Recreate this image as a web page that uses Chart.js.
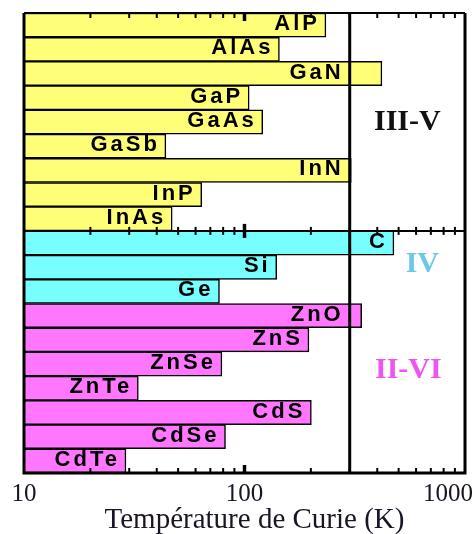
<!DOCTYPE html>
<html>
<head>
<meta charset="utf-8">
<script src="https://cdn.jsdelivr.net/npm/chart.js@4/dist/chart.umd.min.js"></script>
<style>
  html, body { margin: 0; padding: 0; background: #fff; }
  #wrap { width: 475px; height: 534px; }
</style>
</head>
<body>
<div id="wrap"><canvas id="curie"></canvas></div>
<script>
// Curie temperatures (K)
var materials = ['AlP','AlAs','GaN','GaP','GaAs','GaSb','InN','InP','InAs',
                 'C','Si','Ge',
                 'ZnO','ZnS','ZnSe','ZnTe','CdS','CdSe','CdTe'];
var curieT = [234, 144, 420, 105, 121, 44, 305, 64, 47,
              476, 140, 77,
              340, 196, 79, 33, 201, 82, 29];
var groupNames = ['III-V', 'IV', 'II-VI'];
var groupSizes = [9, 3, 7];
var tickValues = [10, 100, 1000];
var tickLabels = ['10', '100', '1000'];
var roomT = 300;

var barColors = ['#ffff77', '#77ffff', '#ff77ff'];
var groupTextColors = ['#111111', '#6cc8e8', '#ee55ee'];

var bgColors = [];
for (var g = 0; g < groupSizes.length; g++) {
  for (var k = 0; k < groupSizes[g]; k++) bgColors.push(barColors[g]);
}

function drawTicks(ctx, xs, y, dir, len) {
  // dir: 1 = downward, -1 = upward, 0 = both
  for (var v = 20; v < 1000; v += (v < 100 ? 10 : 100)) {
    var px = xs.getPixelForValue(v);
    var major = (v === 100);
    var l = major ? len + 3 : len;
    ctx.lineWidth = major ? 3.5 : 2;
    ctx.beginPath();
    if (dir === 0) { ctx.moveTo(px, y - l); ctx.lineTo(px, y + l); }
    else { ctx.moveTo(px, y); ctx.lineTo(px, y + dir * l); }
    ctx.stroke();
  }
}

var decor = {
  id: 'decor',
  afterDatasetsDraw: function(chart) {
    var ctx = chart.ctx, a = chart.chartArea;
    var xs = chart.scales.x, ys = chart.scales.y;
    ctx.save();
    ctx.strokeStyle = '#000';

    // bar labels
    var x300 = xs.getPixelForValue(roomT);
    var meta = chart.getDatasetMeta(0);
    ctx.font = 'bold 22px "Liberation Sans"';
    ctx.letterSpacing = '3px';
    ctx.fillStyle = '#000';
    ctx.textAlign = 'right';
    ctx.textBaseline = 'middle';
    meta.data.forEach(function(bar, i) {
      var right = bar.x - 6;
      // labels of bars that barely cross the 300 K line stay left of it
      if (bar.x > x300 && bar.x < x300 + 40) right = x300 - 6;
      ctx.fillText(materials[i], right, bar.y - 1);
    });
    ctx.letterSpacing = '0px';

    // frame
    ctx.lineWidth = 2;
    ctx.beginPath(); ctx.moveTo(a.left, a.top); ctx.lineTo(a.right, a.top); ctx.stroke();
    ctx.lineWidth = 3;
    ctx.beginPath();
    ctx.moveTo(a.left, a.top); ctx.lineTo(a.left, a.bottom);
    ctx.lineTo(a.right, a.bottom); ctx.lineTo(a.right, a.top);
    ctx.stroke();

    // room temperature line
    ctx.beginPath(); ctx.moveTo(x300, a.top); ctx.lineTo(x300, a.bottom); ctx.stroke();

    // separator between III-V and IV, drawn as an axis
    var ySep = (ys.getPixelForValue(groupSizes[0] - 1) + ys.getPixelForValue(groupSizes[0])) / 2;
    ctx.lineWidth = 2;
    ctx.beginPath(); ctx.moveTo(a.left, ySep); ctx.lineTo(a.right, ySep); ctx.stroke();
    drawTicks(ctx, xs, ySep, 0, 4);
    drawTicks(ctx, xs, a.top, 1, 5);
    drawTicks(ctx, xs, a.bottom, -1, 5);

    // group labels
    ctx.font = 'bold 30px "Liberation Serif"';
    ctx.textAlign = 'center';
    ctx.textBaseline = 'middle';
    var mid = (x300 + a.right) / 2;
    var gx = [mid, mid + 15, mid + 1];
    var gy = [ys.getPixelForValue(4), ys.getPixelForValue(10) - 3, ys.getPixelForValue(14) + 6];
    for (var g = 0; g < groupNames.length; g++) {
      ctx.fillStyle = groupTextColors[g];
      ctx.fillText(groupNames[g], gx[g], gy[g]);
    }

    // x tick labels and title
    ctx.fillStyle = '#1a1425';
    ctx.font = '25px "Liberation Serif"';
    ctx.textBaseline = 'alphabetic';
    for (var t = 0; t < tickValues.length; t++) {
      var w = ctx.measureText(tickLabels[t]).width;
      var px = Math.min(xs.getPixelForValue(tickValues[t]), chart.width - w / 2 - 2);
      ctx.fillText(tickLabels[t], px, a.bottom + 28);
    }
    ctx.font = '29px "Liberation Serif"';
    ctx.fillText('Température de Curie (K)', (a.left + a.right) / 2 + 10, a.bottom + 55);
    ctx.restore();
  }
};

new Chart(document.getElementById('curie'), {
  type: 'bar',
  data: {
    labels: materials,
    datasets: [{
      data: curieT,
      backgroundColor: bgColors,
      borderColor: '#000',
      borderWidth: 1.5,
      categoryPercentage: 1,
      barPercentage: 1
    }]
  },
  options: {
    indexAxis: 'y',
    responsive: true,
    maintainAspectRatio: false,
    animation: false,
    layout: { padding: { left: 24, right: 10, top: 13, bottom: 61 } },
    plugins: { legend: { display: false }, tooltip: { enabled: false } },
    scales: {
      x: { type: 'logarithmic', min: 10, max: 1000, display: false },
      y: { display: false }
    }
  },
  plugins: [decor]
});
</script>
</body>
</html>
